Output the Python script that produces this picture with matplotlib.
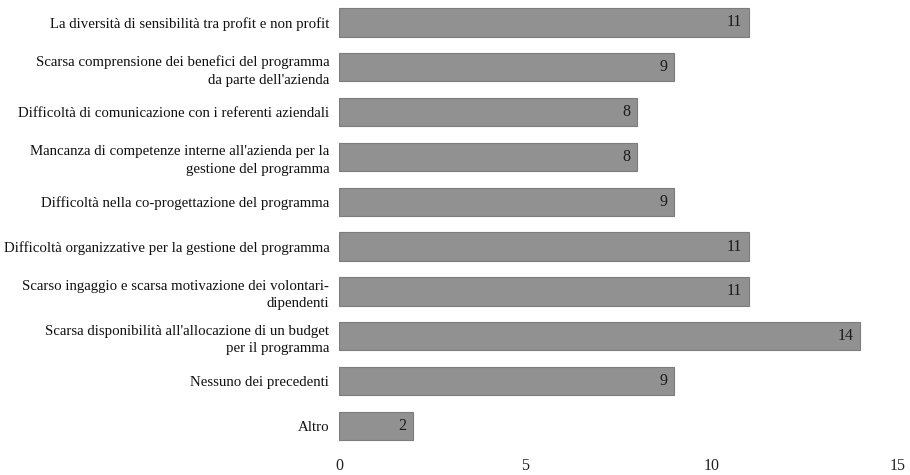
import matplotlib.pyplot as plt

# Categorie e conteggi delle risposte
categorie = [
    "La diversità di sensibilità tra profit e non profit",
    "Scarsa comprensione dei benefici del programma\nda parte dell'azienda",
    "Difficoltà di comunicazione con i referenti aziendali",
    "Mancanza di competenze interne all'azienda per la\ngestione del programma",
    "Difficoltà nella co-progettazione del programma",
    "Difficoltà organizzative per la gestione del programma",
    "Scarso ingaggio e scarsa motivazione dei volontari-\ndipendenti",
    "Scarsa disponibilità all'allocazione di un budget\nper il programma",
    "Nessuno dei precedenti",
    "Altro",
]
valori = [11, 9, 8, 8, 9, 11, 11, 14, 9, 2]
tick_x = [0, 5, 10, 15]

plt.rcParams['font.family'] = ['Liberation Serif', 'DejaVu Serif']

fig = plt.figure(figsize=(9.1, 4.75), dpi=100)
ax = fig.add_axes([0.3725, 0.056, 0.614, 0.944])

pos = list(range(len(categorie)))
barre = ax.barh(pos, valori, height=0.63, color='#919191',
                edgecolor='#7c7c7c', linewidth=0.8)

# Valore scritto in fondo a ogni barra
for b, v in zip(barre, valori):
    ax.annotate(str(v), xy=(b.get_width(), b.get_y() + b.get_height() / 2),
                xytext=(-5, 0), textcoords='offset points',
                ha='right', va='center', fontsize=11.5, color='#1a1a1a')

ax.set_yticks(pos)
ax.set_yticklabels(categorie, fontsize=10.7, color='#111111')
for lab in ax.get_yticklabels():
    lab.set_linespacing(1.45)
ax.set_xticks(tick_x)
ax.set_xticklabels([str(t) for t in tick_x], fontsize=11.5, color='#222222')
ax.set_xlim(0, 15)
ax.set_ylim(len(categorie) - 0.5, -0.5)

ax.tick_params(axis='both', length=0)
ax.tick_params(axis='x', pad=7)
ax.tick_params(axis='y', pad=7)
for s in ax.spines.values():
    s.set_visible(False)

plt.savefig('out.png', dpi=100)
